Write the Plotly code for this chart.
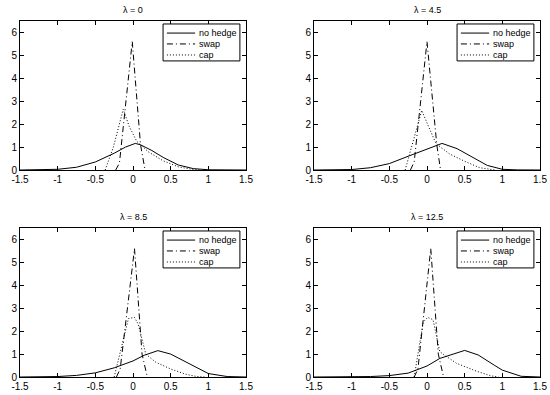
import plotly.graph_objects as go

titles = ["λ = 0", "λ = 4.5", "λ = 8.5", "λ = 12.5"]
series_names = ["no hedge", "swap", "cap"]

# Panel 1 (lambda = 0)
nh_x1 = [-1.5, -1.25, -1.0, -0.75, -0.5, -0.25, -0.1, 0.03, 0.1, 0.25, 0.4, 0.6, 0.8, 1.0, 1.25, 1.5]
nh_y1 = [0, 0.005, 0.03, 0.12, 0.35, 0.73, 1.0, 1.16, 1.1, 0.85, 0.55, 0.22, 0.06, 0.01, 0, 0]
sw_x1 = [-0.23, -0.18, -0.01, 0.10, 0.16]
sw_y1 = [0, 0.3, 5.6, 1.1, 0]
cp_x1 = [-0.37, -0.26, -0.13, -0.05, 0.05, 0.2, 0.4, 0.6, 0.8, 0.9]
cp_y1 = [0, 1.0, 2.65, 1.9, 1.25, 0.8, 0.4, 0.14, 0.02, 0]

# Panel 2 (lambda = 4.5)
nh_x2 = [-1.5, -1.25, -1.0, -0.75, -0.5, -0.25, 0.0, 0.2, 0.4, 0.6, 0.8, 1.0, 1.2, 1.5]
nh_y2 = [0, 0.005, 0.02, 0.1, 0.28, 0.6, 0.9, 1.16, 0.93, 0.55, 0.2, 0.03, 0.005, 0]
sw_x2 = [-0.22, -0.17, 0.0, 0.13, 0.18]
sw_y2 = [0, 0.35, 5.6, 1.1, 0]
cp_x2 = [-0.29, -0.07, 0.02, 0.12, 0.3, 0.5, 0.7, 0.9]
cp_y2 = [0, 2.6, 1.9, 1.15, 0.7, 0.38, 0.1, 0]

# Panel 3 (lambda = 8.5)
nh_x3 = [-1.5, -1.25, -1.0, -0.75, -0.5, -0.25, 0.0, 0.15, 0.33, 0.5, 0.75, 1.0, 1.25, 1.5]
nh_y3 = [0, 0.003, 0.02, 0.07, 0.18, 0.4, 0.7, 0.95, 1.15, 1.0, 0.58, 0.15, 0.02, 0]
sw_x3 = [-0.22, -0.17, 0.02, 0.12, 0.19]
sw_y3 = [0, 0.35, 5.6, 1.0, 0]
cp_x3 = [-0.25, -0.06, 0.02, 0.07, 0.17, 0.3, 0.5, 0.7, 0.85, 0.95]
cp_y3 = [0, 2.55, 2.6, 2.3, 1.0, 0.65, 0.35, 0.12, 0.02, 0]

# Panel 4 (lambda = 12.5)
nh_x4 = [-1.5, -1.0, -0.75, -0.5, -0.25, 0.0, 0.17, 0.5, 0.68, 0.9, 1.0, 1.25, 1.5]
nh_y4 = [0, 0.005, 0.02, 0.06, 0.17, 0.48, 0.81, 1.16, 0.96, 0.5, 0.3, 0.03, 0]
sw_x4 = [-0.17, -0.12, 0.05, 0.15, 0.22]
sw_y4 = [0, 0.35, 5.6, 1.0, 0]
cp_x4 = [-0.17, -0.05, 0.01, 0.08, 0.17, 0.39, 0.66, 0.85, 0.95]
cp_y4 = [0, 2.4, 2.6, 2.5, 1.1, 0.6, 0.25, 0.05, 0]

x_ticks = [-1.5, -1, -0.5, 0, 0.5, 1, 1.5]
x_ticklabels = ["-1.5", "-1", "-0.5", "0", "0.5", "1", "1.5"]
y_ticks = [0, 1, 2, 3, 4, 5, 6]

panels = [
    (nh_x1, nh_y1, sw_x1, sw_y1, cp_x1, cp_y1),
    (nh_x2, nh_y2, sw_x2, sw_y2, cp_x2, cp_y2),
    (nh_x3, nh_y3, sw_x3, sw_y3, cp_x3, cp_y3),
    (nh_x4, nh_y4, sw_x4, sw_y4, cp_x4, cp_y4),
]

W, H = 550, 395
# pixel boxes of plot areas (left, right, top, bottom)
boxes = [(20, 246, 21, 170), (314, 540, 21, 170), (20, 246, 228, 377), (314, 540, 228, 377)]
dashes = ["solid", "6px,3px,1px,3px", "1px,2px"]
FONT = "Liberation Sans, Arial, Helvetica, sans-serif"

fig = go.Figure()
layout = dict(width=W, height=H, margin=dict(l=0, r=0, t=0, b=0, autoexpand=False),
              paper_bgcolor="white", plot_bgcolor="white", showlegend=False,
              font=dict(family=FONT, size=10, color="black"), annotations=[], shapes=[])

# legend geometry inside each plot (axis-domain fractions)
LEG_BOX = (0.633, 0.973, 0.732, 0.98)
LEG_LINE = (0.65, 0.775)
LEG_TEXT_X = 0.785
LEG_ROWS = [0.919, 0.846, 0.772]

for i, (p, box) in enumerate(zip(panels, boxes)):
    k = "" if i == 0 else str(i + 1)
    xs = [p[0], p[2], p[4]]
    ys = [p[1], p[3], p[5]]
    for j in range(3):
        fig.add_trace(go.Scatter(x=xs[j], y=ys[j], mode="lines", name=series_names[j],
                                 line=dict(color="black", width=1, dash=dashes[j]),
                                 xaxis="x" + k, yaxis="y" + k, hoverinfo="skip"))
    l, r, t, b = box
    xd = [l / W, r / W]
    yd = [1 - b / H, 1 - t / H]
    axcommon = dict(showgrid=False, zeroline=False, showline=True, linecolor="black",
                    linewidth=1, mirror="ticks", ticks="inside", ticklen=4,
                    tickcolor="black", tickwidth=1, tickfont=dict(family=FONT, size=10),
                    ticklabeloverflow="allow", automargin=False)
    layout["xaxis" + k] = dict(domain=xd, range=[-1.5, 1.5], anchor="y" + k,
                               tickvals=x_ticks, ticktext=x_ticklabels, **axcommon)
    layout["yaxis" + k] = dict(domain=yd, range=[0, 6.5], anchor="x" + k,
                               tickvals=y_ticks, **axcommon)
    xr, yr = "x" + k + " domain", "y" + k + " domain"
    layout["shapes"].append(dict(type="rect", xref=xr, yref=yr,
                                 x0=LEG_BOX[0], x1=LEG_BOX[1], y0=LEG_BOX[2], y1=LEG_BOX[3],
                                 line=dict(color="black", width=1), fillcolor="white",
                                 layer="above"))
    for j in range(3):
        layout["shapes"].append(dict(type="line", xref=xr, yref=yr,
                                     x0=LEG_LINE[0], x1=LEG_LINE[1],
                                     y0=LEG_ROWS[j], y1=LEG_ROWS[j],
                                     line=dict(color="black", width=1, dash=dashes[j]),
                                     layer="above"))
        layout["annotations"].append(dict(text=series_names[j], xref=xr, yref=yr,
                                          x=LEG_TEXT_X, y=LEG_ROWS[j], showarrow=False,
                                          xanchor="left", yanchor="middle",
                                          font=dict(family=FONT, size=9)))
    layout["annotations"].append(dict(text=titles[i], x=(l + r) / 2 / W, y=1 - (t - 11) / H,
                                      xref="paper", yref="paper", showarrow=False,
                                      xanchor="center", yanchor="middle",
                                      font=dict(family=FONT, size=9)))

fig.update_layout(**layout)
fig.write_html("out.html", config={"displayModeBar": False},
               post_script="document.body.style.margin='0';document.body.style.overflow='hidden';")
